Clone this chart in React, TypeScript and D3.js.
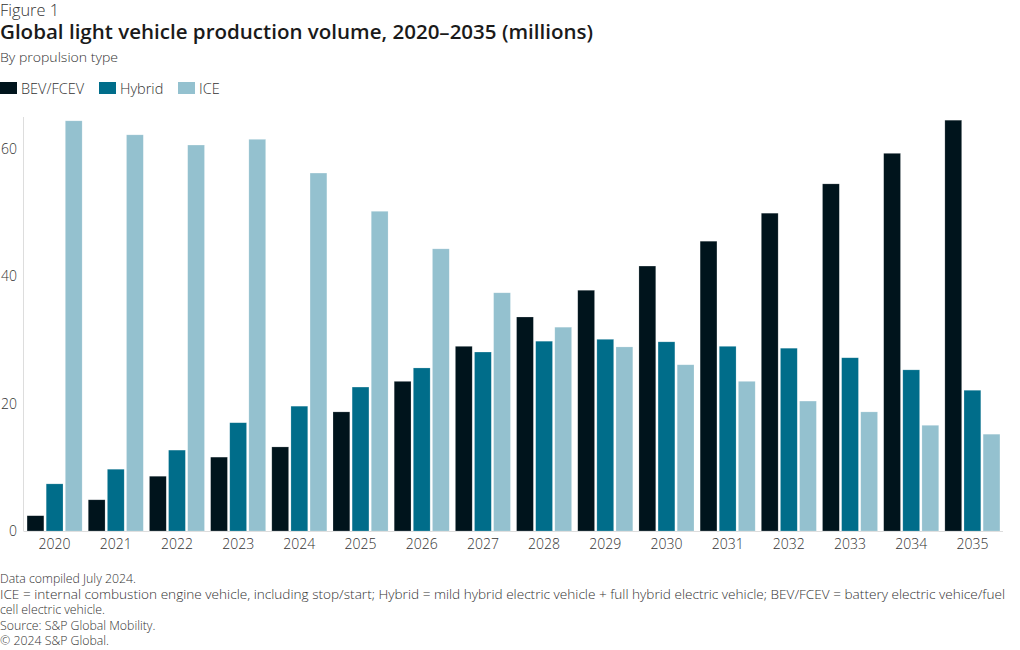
import React from "react";
import * as d3 from "d3";

// Datos (millones de vehículos)
const years = ["2020", "2021", "2022", "2023", "2024", "2025", "2026", "2027", "2028", "2029", "2030", "2031", "2032", "2033", "2034", "2035"];
const seriesKeys = ["BEV/FCEV", "Hybrid", "ICE"];
const bev = [2.4, 4.9, 8.6, 11.6, 13.2, 18.7, 23.5, 29.0, 33.6, 37.8, 41.6, 45.5, 49.9, 54.5, 59.3, 64.5];
const hybrid = [7.4, 9.7, 12.7, 17.0, 19.6, 22.6, 25.6, 28.1, 29.8, 30.1, 29.7, 29.0, 28.7, 27.2, 25.3, 22.1];
const ice = [64.4, 62.2, 60.6, 61.5, 56.2, 50.2, 44.3, 37.4, 32.0, 28.9, 26.1, 23.5, 20.4, 18.7, 16.6, 15.2];
const yTicks = [0, 20, 40, 60];
const colors = ["#00141c", "#006d8a", "#94c1cf"];

const footnotes = [
  "Data compiled July 2024.",
  "ICE = internal combustion engine vehicle, including stop/start; Hybrid = mild hybrid electric vehicle + full hybrid electric vehicle; BEV/FCEV = battery electric vehice/fuel",
  "cell electric vehicle.",
  "Source: S&P Global Mobility.",
  "© 2024 S&P Global.",
];

const W = 1020;
const H = 650;
const font = "'Open Sans', Roboto, sans-serif";
const textColor = "#333";

export default function App() {
  const values = [bev, hybrid, ice];

  const x = d3.scaleBand<string>().domain(years).range([24, 1003]).paddingInner(0.1).paddingOuter(0.05);
  const xs = d3.scaleBand<string>().domain(seriesKeys).range([0, x.bandwidth()]).paddingInner(0.12);
  const y = d3.scaleLinear().domain([0, 65]).range([531, 117]);

  const legendX = [0, 99, 178];

  return (
    <svg width={W} height={H} style={{ position: "absolute", left: 0, top: 0, background: "#fff" }} fontFamily={font}>
      <text x={0} y={16} fontSize={16} fontWeight={300} fill={textColor} textLength={59} lengthAdjust="spacingAndGlyphs">Figure 1</text>
      <text x={0} y={39} fontSize={19} fontWeight={600} fill="#1a1a1a" textLength={593} lengthAdjust="spacingAndGlyphs">Global light vehicle production volume, 2020–2035 (millions)</text>
      <text x={0} y={62} fontSize={13} fontWeight={300} fill={textColor} textLength={118} lengthAdjust="spacingAndGlyphs">By propulsion type</text>

      {seriesKeys.map((k, i) => (
        <g key={k} transform={`translate(${legendX[i]},82)`}>
          <rect x={0} y={0} width={17} height={12} fill={colors[i]} />
          <text x={21} y={11.5} fontSize={14.5} fontWeight={300} fill={textColor}>{k}</text>
        </g>
      ))}

      {/* ejes */}
      <line x1={23.5} x2={23.5} y1={y(65)} y2={y(0)} stroke="#ddd" />
      <line x1={23.5} x2={1003} y1={y(0) + 0.5} y2={y(0) + 0.5} stroke="#ddd" />
      {yTicks.map(t => (
        <text key={t} x={17} y={y(t) + 5} textAnchor="end" fontSize={14} fontWeight={300} fill={textColor}>{t}</text>
      ))}

      {/* barras */}
      {years.map((yr, j) => (
        <g key={yr} transform={`translate(${x(yr)},0)`}>
          {seriesKeys.map((k, i) => (
            <rect
              key={k}
              x={xs(k)}
              y={y(values[i][j])}
              width={xs.bandwidth()}
              height={y(0) - y(values[i][j])}
              fill={colors[i]}
              stroke="#ffffff"
              strokeOpacity={0.35}
              strokeWidth={0.6}
            />
          ))}
          <text x={x.bandwidth() / 2} y={549} textAnchor="middle" fontSize={14} fontWeight={300} fill={textColor}>{yr}</text>
        </g>
      ))}

      {footnotes.map((f, i) => (
        <text key={i} x={0} y={583 + i * 15.5} fontSize={12.3} fontWeight={300} fill={textColor}
          {...(i === 1 ? { textLength: 1005, lengthAdjust: "spacingAndGlyphs" } : {})}>{f}</text>
      ))}
    </svg>
  );
}
